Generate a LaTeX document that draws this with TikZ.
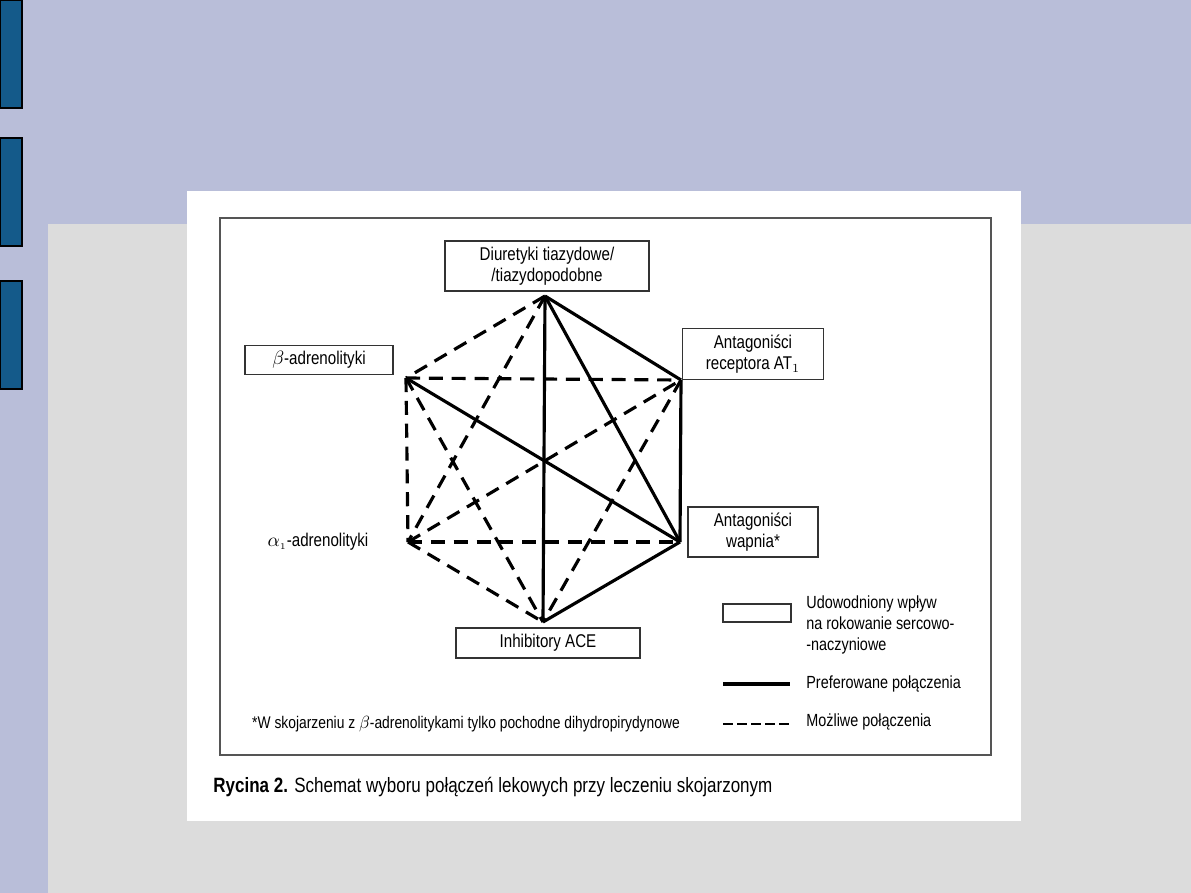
\documentclass[tikz,border=0pt]{standalone}
\usepackage{fontspec}
\setmainfont{Liberation Sans}[FakeStretch=0.82]
\definecolor{slidebg}{HTML}{B9BED9}
\definecolor{slidegrey}{HTML}{DCDCDC}
\definecolor{slideblue}{HTML}{145A8A}
\definecolor{framegrey}{HTML}{555555}

\begin{document}
\begin{tikzpicture}[x=0.02cm, y=-0.02cm,
        box/.style={draw=black!80, line width=0.7pt, fill=white, align=center,
                    inner sep=0pt, font=\fontsize{10.5}{11.9}\selectfont},
        lbl/.style={align=left, inner sep=0pt, font=\fontsize{10}{11.9}\selectfont},
        pref/.style={line width=1.8pt},
        poss/.style={line width=1.8pt, dash pattern=on 8pt off 5pt},
        tab/.style={draw=black, line width=0.6pt, fill=slideblue}
      ]
        \useasboundingbox (0,0) rectangle (1191,893);
        % slide background
        \fill[slidebg] (0,0) rectangle (1191,893);
        \fill[slidegrey] (48,224) rectangle (1191,893);
        \draw[tab] (0,0) rectangle (22,108);
        \draw[tab] (0,138) rectangle (22,246);
        \draw[tab] (0,281) rectangle (22,389);
        \fill[white] (187,191) rectangle (1021,821);
        \draw[framegrey, line width=1.3pt] (220,218) rectangle (991,755);

        % corners of the hexagon
        \coordinate (d)   at (545,296);
        \coordinate (at)  at (681,380);
        \coordinate (wap) at (680,542);
        \coordinate (ace) at (543,622);
        \coordinate (alf) at (408,542);
        \coordinate (bet) at (406,378);

        \node[box, minimum width=4.08cm, minimum height=1cm]  (diu)  at (547,266) {Diuretyki tiazydowe/\\/tiazydopodobne};
        \node[box, minimum width=2.82cm, minimum height=1.02cm] (sart) at (753,354) {Antagoniści\\receptora AT$_1$};
        \node[box, minimum width=2.96cm, minimum height=0.58cm] (bb)  at (319,360) {$\beta$-adrenolityki};
        \node[box, draw=none, fill=none] (ab) at (318,542) {$\alpha_{\scriptscriptstyle 1}$-adrenolityki};
        \node[box, minimum width=2.6cm, minimum height=1cm]  (ca)   at (753,532) {Antagoniści\\wapnia*};
        \node[box, minimum width=3.68cm, minimum height=0.6cm] (acei) at (548,643) {Inhibitory ACE};

        % preferred
        \draw[pref] (d) -- (at);
        \draw[pref] (d) -- (wap);
        \draw[pref] (d) -- (ace);
        \draw[pref] (at) -- (wap);
        \draw[pref] (wap) -- (ace);
        \draw[pref] (bet) -- (wap);
        % possible
        \draw[poss] (d) -- (bet);
        \draw[poss] (d) -- (alf);
        \draw[poss] (bet) -- (at);
        \draw[poss] (bet) -- (alf);
        \draw[poss] (bet) -- (ace);
        \draw[poss] (alf) -- (at);
        \draw[poss] (alf) -- (wap);
        \draw[poss] (alf) -- (ace);
        \draw[poss] (at) -- (ace);

        % legend
        \node[box, minimum width=1.36cm, minimum height=0.36cm] (lbox) at (757,613) {};
        \node[lbl, anchor=west] (ltxt) at (806,625) {Udowodniony wpływ\\na rokowanie sercowo-\\-naczyniowe};
        \coordinate (ls1) at (723,684);
        \coordinate (ls2) at (790,684);
        \draw[line width=1.8pt] (ls1) -- (ls2);
        \node[lbl, anchor=west] (lpref) at (806,684) {Preferowane połączenia};
        \coordinate (ld1) at (723,724);
        \coordinate (ld2) at (790,724);
        \draw[line width=1.4pt, dash pattern=on 5.5pt off 2.5pt] (ld1) -- (ld2);
        \node[lbl, anchor=west] (lposs) at (806,722) {Możliwe połączenia};

        \node[lbl, font=\fontsize{9.6}{11}\selectfont] (note) at (466,724) {*W skojarzeniu z $\beta$-adrenolitykami tylko pochodne dihydropirydynowe};
        \node[lbl, anchor=west, font=\fontsize{11.8}{13}\selectfont] (cap) at (213,787) {\textbf{Rycina 2.} Schemat wyboru połączeń lekowych przy leczeniu skojarzonym};
      \end{tikzpicture}
\end{document}
